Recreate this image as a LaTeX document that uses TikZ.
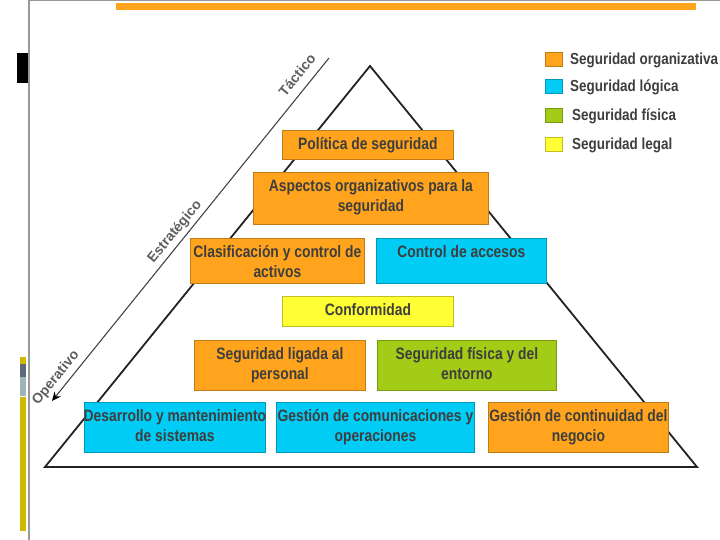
\documentclass[tikz,border=0pt]{standalone}
\usepackage{fontspec}
\setmainfont{Liberation Sans}
\newfontfamily\nb[FakeStretch=0.84]{Liberation Sans}
\usetikzlibrary{arrows.meta}
\definecolor{org}{HTML}{FFA41C}
\definecolor{logi}{HTML}{00CCF5}
\definecolor{fis}{HTML}{A2CC16}
\definecolor{leg}{HTML}{FFFF33}
\definecolor{txt}{HTML}{3E3E3E}
\definecolor{axg}{HTML}{5E5E5E}
\definecolor{mustard}{HTML}{D2B800}
\definecolor{slate}{HTML}{5E6A7A}
\definecolor{teal}{HTML}{9FB4B4}
\definecolor{tri}{HTML}{222222}
\definecolor{axl}{HTML}{444444}
\tikzset{
  box/.style={draw=#1!75!black, fill=#1, line width=0.8pt, inner sep=0pt, anchor=north west},
  btxt/.style={inner sep=0pt, anchor=north, align=center, text=txt,
    font=\nb\bfseries\fontsize{16.5}{20}\selectfont},
  legsq/.style={draw=#1!75!black, fill=#1, line width=0.8pt, inner sep=0pt,
    minimum width=17pt, minimum height=14pt},
  legtxt/.style={inner sep=0pt, anchor=west, text=txt, font=\nb\bfseries\fontsize{16}{20}\selectfont},
  axlbl/.style={inner sep=0pt, rotate=50.7, text=axg, font=\bfseries\fontsize{14}{16}\selectfont}
}
% name, color, x, y, w, h, text
\newcommand\pbox[7]{%
  \node[box=#2, minimum width=#5pt, minimum height=#6pt] (#1) at (#3,#4) {};
  \node[btxt] (#1t) at ([yshift=-7.5pt]#1.north) {#7};}
\begin{document}
\begin{tikzpicture}[x=1pt,y=-1pt]
\useasboundingbox (0,0) rectangle (720,540);
% frame
\draw[gray!80, line width=1.2pt] (29,540) -- (29,0.6) -- (720,0.6);
\fill[org] (116,3) rectangle (696,10.5);
\fill[black] (17,53) rectangle (28.4,83);
\fill[mustard] (20,357) rectangle (26,364);
\fill[slate] (20,364) rectangle (26,377);
\fill[teal] (20,377) rectangle (26,396);
\fill[mustard] (20,397) rectangle (26,531);
% triangle
\coordinate (apex) at (370,66);
\coordinate (bl) at (45,467);
\coordinate (br) at (697,467);
\draw[tri, line width=1.8pt, line join=miter] (bl) -- (apex) -- (br) -- cycle;
% axis arrow
\coordinate (axs) at (329,58);
\coordinate (axe) at (52,401);
\draw[axl, line width=1.1pt, -{Stealth[length=9pt,width=8pt,black]}] (axs) -- (axe);
\node[axlbl] (tac) at (297,75) {Táctico};
\node[axlbl] (est) at (175,232) {Estratégico};
\node[axlbl] (ope) at (56,378) {Operativo};
% boxes
\pbox{pol}{org}{282}{130}{171}{29}{Política de seguridad}
\pbox{asp}{org}{253}{172}{235}{52}{Aspectos organizativos para la\\seguridad}
\pbox{cla}{org}{190}{238}{174}{45}{Clasificación y control de\\activos}
\pbox{acc}{logi}{376}{238}{170}{45}{Control de accesos}
\pbox{con}{leg}{282}{296}{171}{30}{Conformidad}
\pbox{per}{org}{194}{340}{171}{50}{Seguridad ligada al\\personal}
\pbox{fis}{fis}{377}{340}{179}{50}{Seguridad física y del\\entorno}
\pbox{des}{logi}{84}{402}{181}{50}{Desarrollo y mantenimiento\\de sistemas}
\pbox{com}{logi}{276}{402}{198}{50}{Gestión de comunicaciones y\\operaciones}
\pbox{neg}{org}{488}{402}{180}{50}{Gestión de continuidad del\\negocio}
% legend
\node[legsq=org] (l1) at (553.5,59) {};
\node[legsq=logi] (l2) at (553.5,86) {};
\node[legsq=fis] (l3) at (554,115.5) {};
\node[legsq=leg] (l4) at (554,144) {};
\node[legtxt] (t1) at (570,60) {Seguridad organizativa};
\node[legtxt] (t2) at (570,87) {Seguridad lógica};
\node[legtxt] (t3) at (572,116.5) {Seguridad física};
\node[legtxt] (t4) at (572,145) {Seguridad legal};
\end{tikzpicture}
\end{document}
